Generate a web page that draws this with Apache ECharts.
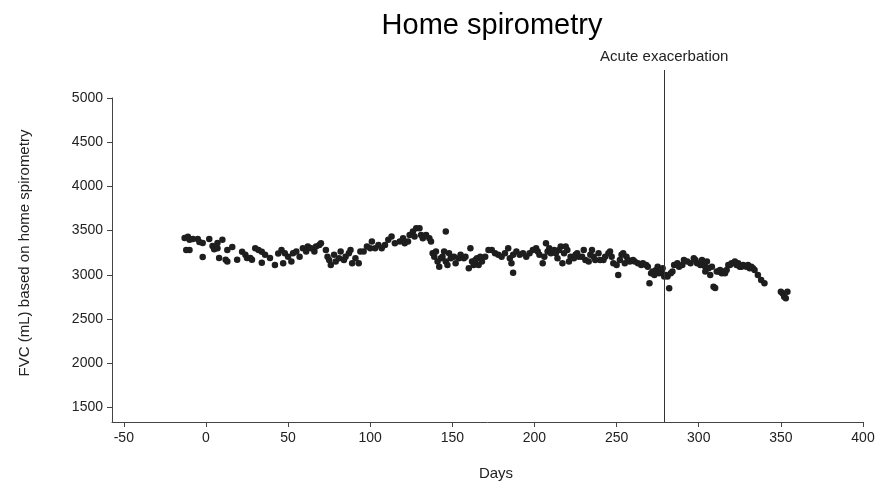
<!DOCTYPE html>
<html>
<head>
<meta charset="utf-8">
<script src="https://cdn.jsdelivr.net/npm/echarts@6/dist/echarts.min.js"></script>
<style>
html,body{margin:0;padding:0;background:#fff;}
#chart{width:880px;height:486px;}
</style>
</head>
<body>
<div id="chart"></div>
<script>
// ---- data ----
var chartTitle = 'Home spirometry';
var xAxisTitle = 'Days';
var yAxisTitle = 'FVC (mL) based on home spirometry';
var eventLabel = 'Acute exacerbation';
var eventDay = [279];
var xTicks = [-50, 0, 50, 100, 150, 200, 250, 300, 350, 400];
var yTicks = [1500, 2000, 2500, 3000, 3500, 4000, 4500, 5000];
var days = [
  -13,-12,-11,-10,-10,-8,-5,-4,-2,-2,2,4,5,7,7,8,10,12,13,13,16,19,22,24,25,27,28,30,32,34,34,36,39,42,44,
  46,47,48,50,52,53,55,57,59,61,62,64,66,67,69,70,
  73,74,75,76,78,79,81,82,84,85,87,88,89,91,93,94,96,98,100,101,103,105,
  107,109,111,113,115,118,120,121,123,124,126,127,128,130,131,132,134,136,137,
  138,139,140,141,142,143,144,145,146,146,147,148,149,151,152,154,155,157,158,160,161,162,163,164,165,166,167,168,170,172,
  174,176,178,180,182,184,185,186,187,187,189,191,193,195,197,199,201,202,203,205,206,207,208,209,210,212,213,214,215,216,217,218,219,220,221,222,224,225,226,227,229,230,231,233,234,235,236,237,239,
  240,242,243,245,246,247,248,250,251,252,253,254,255,256,257,258,260,261,263,265,266,268,269,270,271,272,273,274,275,276,277,278,279,280,281,282,283,284,285,287,288,290,291,293,295,297,298,299,301,302,
  303,304,305,306,304,307,308,309,310,311,312,313,314,315,316,317,318,319,320,322,323,324,325,326,327,329,330,331,332,333,334,336,338,340,
  350,351,352,353,354
];
var fvc = [
  3415,3280,3430,3395,3280,3405,3405,3370,3200,3360,3405,3325,3290,3300,3360,3190,3395,3170,3280,3150,3315,3170,3260,3225,3190,3190,3170,3300,3280,3260,3135,3225,3190,3110,3240,
  3281,3130,3244,3205,3150,3244,3262,3205,3300,3262,3319,3300,3262,3319,3338,3357,
  3281,3205,3168,3111,3225,3150,3187,3262,3168,3205,3244,3281,3130,3187,3130,3262,3262,3319,3300,3375,3300,3338,
  3300,3338,3395,3432,3357,3375,3414,3357,3375,3451,3489,3432,3527,3527,3451,3414,3451,3414,3375,
  3244,3205,3262,3150,3092,3187,3205,3262,3489,3150,3111,3244,3187,3205,3130,3187,3225,3187,3205,3074,3300,3150,3111,3168,3187,3111,3205,3150,3205,3281,
  3281,3244,3225,3205,3244,3300,3187,3130,3024,3225,3262,3225,3244,3205,3244,3281,3300,3262,3225,3130,3205,3357,3262,3300,3244,3281,3244,3187,3281,3319,3130,3244,3319,3281,3150,3205,3187,3225,3244,3205,3205,3281,3168,3150,3225,3281,3205,3168,3244,
  3168,3168,3205,3244,3262,3205,3130,3111,2998,3168,3225,3244,3130,3205,3168,3150,3168,3150,3130,3111,3130,3111,3092,2904,3017,3036,2998,3055,3092,3017,3036,3074,2979,2998,2979,2848,3017,3036,3111,3130,3092,3111,3168,3150,3130,3187,3168,3130,3111,3168,
  3111,3092,3150,3074,3036,2998,3092,2865,2850,3036,3036,3055,3017,3036,3017,3055,3111,3111,3130,3150,3111,3130,3092,3092,3111,3092,3111,3074,3092,3074,3055,2998,2941,2904,
  2809,2790,2752,2734,2809
];

var points = days.map(function (d, i) { return [d, fvc[i]]; });
var FONT = '"Liberation Sans", Arial, sans-serif';
var plain = function (v) { return String(v); };

var chart = echarts.init(document.getElementById('chart'), null, {renderer: 'canvas'});
chart.setOption({
  animation: false,
  backgroundColor: '#ffffff',
  grid: [
    {left: 112, right: 17, top: 98, bottom: 64, containLabel: false},
    {left: 112, right: 17, top: 70, bottom: 64, containLabel: false}
  ],
  xAxis: [{
    type: 'value', gridIndex: 0, min: -57.2, max: 400,
    axisLine: {show: true, onZero: false, lineStyle: {color: '#444', width: 1}},
    axisTick: {show: true, length: 5, customValues: xTicks, lineStyle: {color: '#444'}},
    axisLabel: {customValues: xTicks, formatter: plain, margin: 9, color: '#222', fontSize: 14, fontFamily: FONT},
    splitLine: {show: false}
  }, {
    type: 'value', gridIndex: 1, min: -57.2, max: 400, show: false
  }],
  yAxis: [{
    type: 'value', gridIndex: 0, min: 1334, max: 5000,
    axisLine: {show: true, onZero: false, lineStyle: {color: '#444', width: 1}},
    axisTick: {show: true, length: 5, customValues: yTicks, lineStyle: {color: '#444'}},
    axisLabel: {customValues: yTicks, formatter: plain, margin: 9, color: '#222', fontSize: 14, fontFamily: FONT},
    splitLine: {show: false}
  }, {
    type: 'value', gridIndex: 1, min: 0, max: 1, show: false
  }],
  series: [{
    type: 'scatter', xAxisIndex: 0, yAxisIndex: 0,
    data: points, symbol: 'circle', symbolSize: 6.5,
    itemStyle: {color: '#1e1e1e', opacity: 1},
    silent: true
  }, {
    type: 'scatter', xAxisIndex: 1, yAxisIndex: 1, data: [],
    markLine: {
      silent: true, symbol: ['none', 'none'],
      lineStyle: {color: '#333', width: 1, type: 'solid'},
      label: {show: true, position: 'end', formatter: eventLabel, color: '#222', fontSize: 15, fontFamily: FONT, distance: 6},
      data: eventDay.map(function (d) { return {xAxis: d}; })
    }
  }],
  graphic: [
    {type: 'text', x: 492, y: 26, silent: true,
     style: {text: chartTitle, fill: '#000', font: '29px ' + FONT, textAlign: 'center', textVerticalAlign: 'middle'}},
    {type: 'text', x: 496, y: 474, silent: true,
     style: {text: xAxisTitle, fill: '#222', font: '15px ' + FONT, textAlign: 'center', textVerticalAlign: 'middle'}},
    {type: 'text', x: 25, y: 253, rotation: Math.PI / 2, silent: true,
     style: {text: yAxisTitle, fill: '#222', font: '15px ' + FONT, textAlign: 'center', textVerticalAlign: 'middle'}}
  ]
});
</script>
</body>
</html>
